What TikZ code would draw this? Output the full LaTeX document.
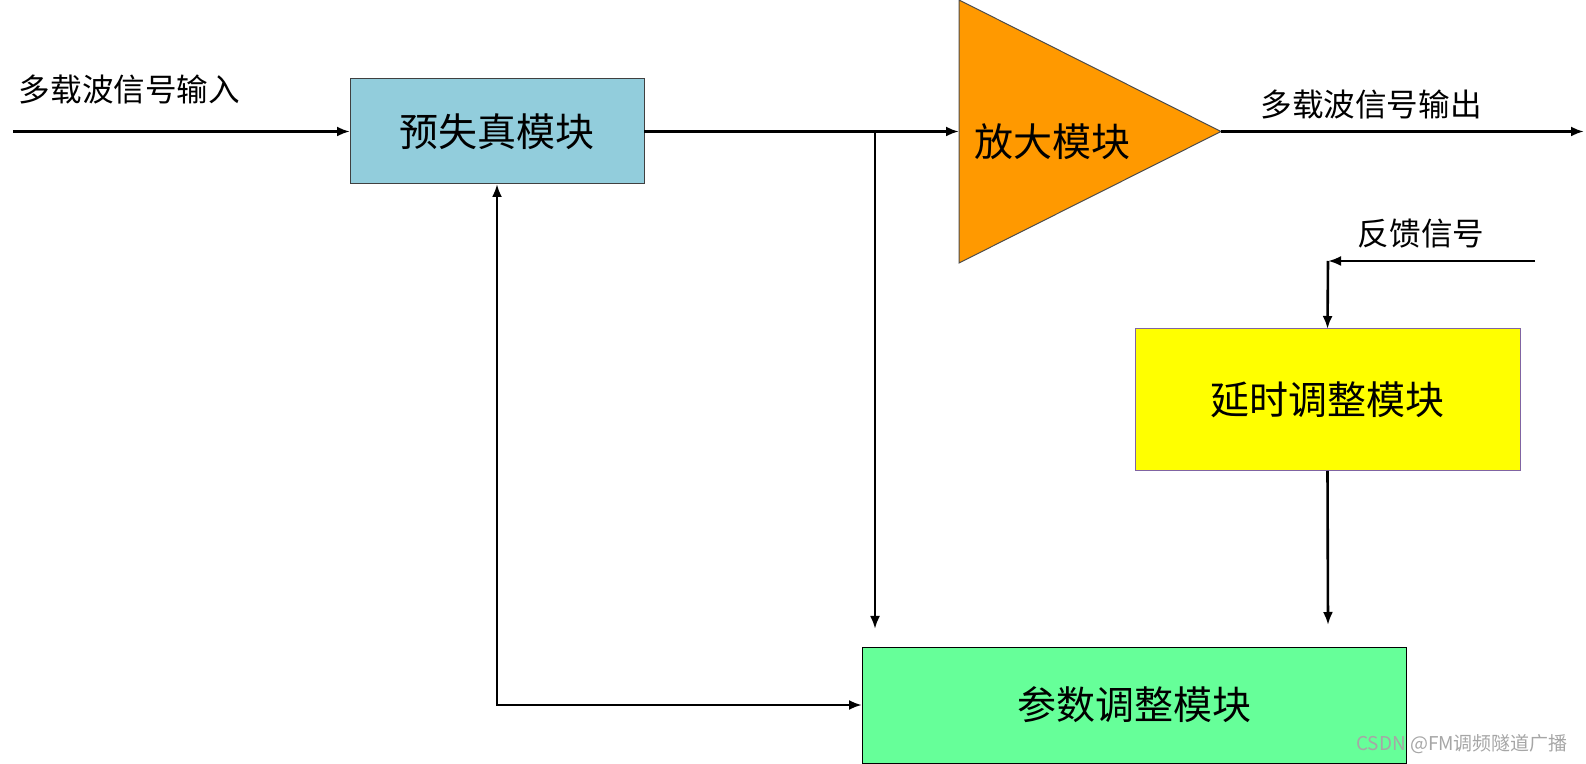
\documentclass[tikz,border=0pt]{standalone}
\usepackage{fontspec}
\setmainfont{Noto Sans CJK SC}
\usetikzlibrary{arrows.meta}
\definecolor{cPre}{RGB}{146,205,220}
\definecolor{cAmp}{RGB}{255,153,0}
\definecolor{cDly}{RGB}{255,255,0}
\definecolor{cPar}{RGB}{102,255,153}
\definecolor{cRim}{RGB}{128,100,162}
\begin{document}
\begin{tikzpicture}[x=0.5pt,y=-0.5pt,
  blk/.style={draw=black!75,line width=0.5pt,inner sep=0pt,outer sep=0pt,font=\fontsize{19.5}{22}\selectfont},
  lbl/.style={inner sep=0pt,font=\fontsize{15.8}{18}\selectfont},
  wire/.style={line width=1.3pt,-{Latex[length=6.5pt,width=5pt]}}]
\useasboundingbox (0,0) rectangle (1586,764);
% blocks
\node[blk,fill=cPre,minimum width=147pt,minimum height=52.5pt] (pre) at (497,131.5) {预失真模块};
\fill[cAmp,draw=black!70,line width=0.5pt] (959,0) -- (959,263) -- (1221,131.5) -- cycle;
\coordinate (ampin) at (959,131.5);
\coordinate (ampout) at (1221,131.5);
\node[inner sep=0pt,font=\fontsize{19.5}{22}\selectfont] (amp) at (1052,142) {放大模块};
\node[blk,draw=cRim,fill=cDly,minimum width=192.5pt,minimum height=71pt] (dly) at (1327.5,400) {延时调整模块};
\node[blk,draw=black,fill=cPar,minimum width=272pt,minimum height=58pt] (par) at (1134,705) {参数调整模块};
% labels
\node[lbl] (inlbl) at (129.5,89) {多载波信号输入};
\node[lbl] (outlbl) at (1371,104) {多载波信号输出};
\node[lbl] (fblbl) at (1421,234) {反馈信号};
\node[inner sep=0pt,text=black!35,font=\fontsize{9.5}{11}\selectfont] (mark) at (1462,744) {CSDN @FM调频隧道广播};
% wires
\coordinate (in) at (13,131.5);
\coordinate (out) at (1584,131.5);
\coordinate (br) at (875,131.5);
\coordinate (brend) at (875,629);
\coordinate (fbin) at (1535,261);
\coordinate (fbc) at (1328,261);
\coordinate (dlyend) at (1328,625);
\draw[wire] (in) -- (pre.west);
\draw[wire] (pre.east) -- (ampin);
\draw[wire] (ampout) -- (out);
\draw[wire] (br) -- (brend);
\draw[wire] (fbin) -- (fbc);
\draw[wire] (fbc) -- (dly.north);
\draw[wire] (dly.south) -- (dlyend);
\draw[wire,{Latex[length=6.5pt,width=5pt]}-{Latex[length=6.5pt,width=5pt]}] (pre.south) |- (par.west);
\end{tikzpicture}
\end{document}
